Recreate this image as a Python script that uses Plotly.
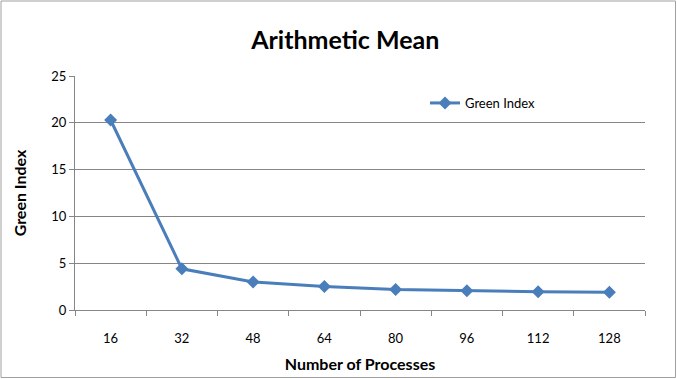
import plotly.graph_objects as go

processes = ["16", "32", "48", "64", "80", "96", "112", "128"]
green_index = [20.3, 4.4, 3.0, 2.5, 2.2, 2.06, 1.96, 1.9]
y_ticks = [0, 5, 10, 15, 20, 25]

W, H = 677, 379
L, R, T, B = 75, 32, 76, 69
pw, ph = W - L - R, H - T - B

fig = go.Figure()
fig.add_trace(go.Scatter(
    x=processes, y=green_index, mode="lines+markers", name="Green Index",
    line=dict(color="#4A7EBB", width=3),
    marker=dict(symbol="diamond", size=10, color="#4A7EBB"),
))

font = "Lato, Carlito, 'Liberation Sans', sans-serif"
fig.update_layout(
    width=W, height=H,
    margin=dict(l=L, r=R, t=T, b=B),
    paper_bgcolor="white", plot_bgcolor="white",
    font=dict(family=font, size=13, color="#000000"),
    title=dict(text="<b>Arithmetic Mean</b>", x=0.51, xanchor="center",
               y=1 - 40 / H, yanchor="middle", font=dict(size=25, color="black")),
    showlegend=True,
    legend=dict(x=(425 - L) / pw, y=1 - (103 - T) / ph, xanchor="left", yanchor="middle",
                bgcolor="rgba(0,0,0,0)", font=dict(size=13), itemwidth=30),
    xaxis=dict(type="category", range=[-0.5, 7.5], tickson="boundaries", automargin=False,
               ticks="outside", ticklen=5, tickcolor="#868686", ticklabelstandoff=16,
               showline=True, linecolor="#868686", linewidth=1, showgrid=False,
               title=dict(text="<b>Number of Processes</b>", font=dict(size=16), standoff=14)),
    yaxis=dict(range=[0, 25], tickvals=y_ticks, ticks="outside", ticklen=5, automargin=False,
               tickcolor="#868686", showline=True, linecolor="#868686", linewidth=1,
               showgrid=True, gridcolor="#868686", gridwidth=1, zeroline=False,
               title=dict(text="<b>Green Index</b>", font=dict(size=16), standoff=20)),
)

fig.add_shape(type="rect", xref="paper", yref="paper",
              x0=(1 - L) / pw, x1=1 + (R - 1.5) / pw,
              y0=-(B - 1.5) / ph, y1=1 + (T - 1) / ph,
              line=dict(color="#A0A0A0", width=1), fillcolor="rgba(0,0,0,0)", layer="below")

fig.write_html("out.html", config={"displayModeBar": False},
               post_script="document.body.style.margin='0';document.body.style.overflow='hidden';")
